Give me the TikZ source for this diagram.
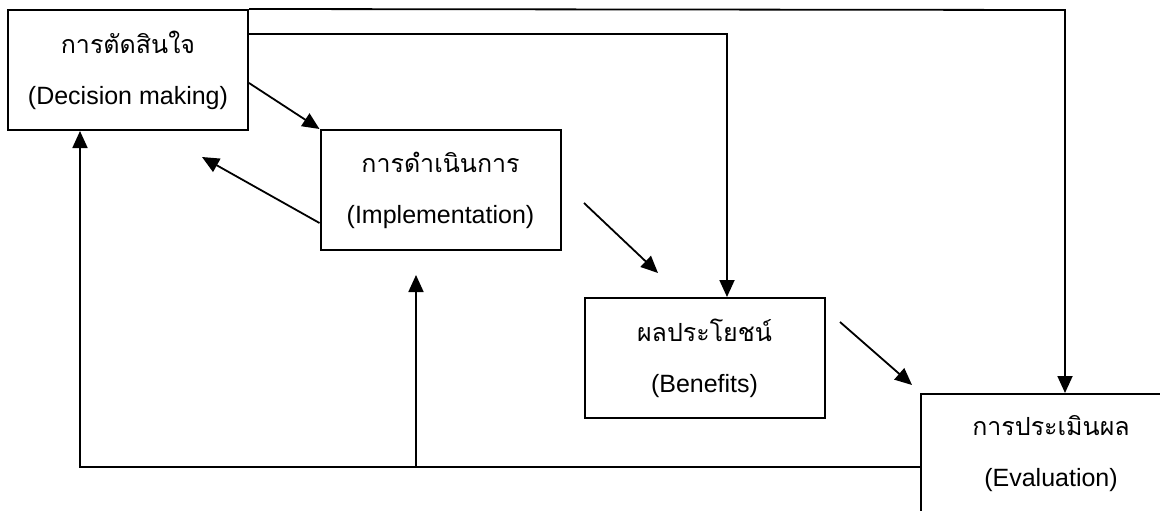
\documentclass[tikz,border=0pt]{standalone}
\usepackage{fontspec}
\setmainfont{Liberation Sans}
\newfontfamily\thaifont[Script=Thai]{Loma}
\usepackage{tikz}
\usetikzlibrary{arrows.meta}
\tikzset{%
    >={Triangle[length=17pt,width=15pt]},
    phasebox/.style={draw, line width=2pt, minimum width=240pt, minimum height=120pt,
        align=center, inner sep=0pt, font=\fontsize{25}{51}\selectfont},
    flow/.style={line width=1.8pt, ->}
}
\newcommand\PhaseBox[6][]{%
    \node[phasebox,#1] (#2) at (#3,#4) {{\thaifont #5}\\#6}
}

\begin{document}
\begin{tikzpicture}[x=1pt,y=-1pt]
      \useasboundingbox (0,0) rectangle (1160,511);
      \clip (0,0) rectangle (1160,511);

      \PhaseBox{decision}{128}{70}{การตัดสินใจ}{(Decision making)};
      \PhaseBox{impl}{440.5}{190}{การดำเนินการ}{(Implementation)};
      \PhaseBox{benefits}{704.5}{358}{ผลประโยชน์}{(Benefits)};
      \PhaseBox[minimum width=260pt]{eval}{1051}{454}{การประเมินผล}{(Evaluation)};

      \coordinate (topturn) at (1065,10);
      \coordinate (benturn) at (727,34);
      \coordinate (backtip) at (202,157);
      \coordinate (implout) at (584,203);
      \coordinate (bentip) at (658,273);
      \coordinate (benout) at (840,322);
      \coordinate (evaltip) at (912,385);
      \coordinate (leftturn) at (80,467);
      \coordinate (midjoin) at (416,467);
      \coordinate (midtip) at (416,275);

      \draw[flow] (decision.north east) -- (topturn) -- (topturn |- eval.north);
      \draw[flow] (decision.east |- benturn) -- (benturn) -- (benturn |- benefits.north);
      \draw[flow] ([yshift=-13pt]decision.east) -- (impl.north west);
      \draw[flow] ([yshift=-33pt]impl.west) -- (backtip);
      \draw[flow] (implout) -- (bentip);
      \draw[flow] (benout) -- (evaltip);

      \draw[flow] ([yshift=-13pt]eval.west) -- (leftturn) -- (leftturn |- decision.south);
      \draw[flow] (midjoin) -- (midtip);
    \end{tikzpicture}
\end{document}
